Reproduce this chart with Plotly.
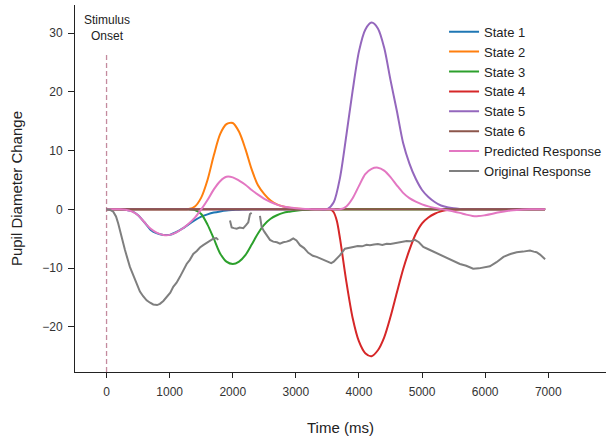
import plotly.graph_objects as go

# ---------------- data ----------------
s1_t = [0, 100, 200, 300, 400, 500, 600, 700, 800, 900, 1000, 1100, 1200, 1300, 1400, 1500, 1600,
        1700, 1800, 1900, 2000, 2100, 2200, 2300, 2400, 6950]
s1_v = [0, 0, 0, -0.05, -0.3, -1.0, -2.2, -3.5, -4.1, -4.35, -4.35, -3.9, -3.3, -2.55, -1.85, -1.25,
        -0.85, -0.55, -0.35, -0.2, -0.12, -0.06, -0.02, 0, 0, 0]

s2_t = [0, 1100, 1200, 1300, 1400, 1500, 1600, 1700, 1800, 1900, 2000, 2100, 2200, 2300, 2400, 2500,
        2600, 2700, 2800, 2900, 3000, 3100, 3200, 3300, 3400, 6950]
s2_v = [0, 0, 0, 0.05, 0.5, 2.0, 5.0, 9.2, 12.8, 14.5, 14.7, 13.2, 10.3, 6.8, 4.1, 2.6, 1.5, 0.85,
        0.5, 0.28, 0.15, 0.08, 0.03, 0, 0, 0]

s3_t = [0, 1200, 1300, 1400, 1500, 1600, 1700, 1800, 1900, 2000, 2100, 2200, 2300, 2400, 2500, 2600,
        2700, 2800, 2900, 3000, 3100, 3200, 3300, 3400, 6950]
s3_v = [0, 0, 0, -0.1, -0.8, -2.6, -5.0, -7.5, -8.9, -9.3, -8.9, -7.8, -6.0, -4.1, -2.6, -1.6, -1.0,
        -0.6, -0.4, -0.25, -0.12, -0.05, 0, 0, 0]

s4_t = [0, 3450, 3550, 3600, 3650, 3700, 3800, 3900, 4000, 4100, 4200, 4300, 4400, 4500, 4600, 4700,
        4800, 4900, 5000, 5100, 5200, 5300, 5400, 5500, 5600, 5700, 6950]
s4_v = [0, 0, 0, -0.5, -2.0, -5.0, -12.3, -18.5, -22.5, -24.5, -25.0, -24.0, -21.8, -18.3, -14.2,
        -10.2, -6.9, -4.2, -2.4, -1.4, -0.75, -0.35, -0.12, -0.03, 0, 0, 0]

s5_t = [0, 3300, 3400, 3500, 3600, 3700, 3800, 3900, 4000, 4100, 4200, 4300, 4400, 4500, 4600, 4700,
        4800, 4900, 5000, 5100, 5200, 5300, 5400, 5500, 5600, 5700, 5800, 5900, 6950]
s5_v = [0, 0, 0, 0.05, 1.2, 5.4, 12.6, 20.2, 26.9, 30.6, 31.8, 30.8, 27.5, 22.0, 16.8, 11.3, 7.8,
        5.2, 3.3, 2.1, 1.25, 0.65, 0.35, 0.18, 0.08, 0.03, 0, 0, 0]

s6_t = [0, 6950]
s6_v = [0, 0]

pred_t = [0, 100, 200, 300, 400, 500, 600, 700, 800, 900, 1000, 1100, 1200, 1300, 1400, 1500, 1600,
          1700, 1800, 1900, 2000, 2100, 2200, 2300, 2400, 2500, 2600, 2700, 2800, 2900, 3000, 3100,
          3200, 3300, 3400, 3600, 3700, 3800, 3900, 4000, 4100, 4200, 4300, 4400, 4500, 4600, 4700,
          4800, 4900, 5000, 5100, 5200, 5300, 5400, 5500, 5600, 5700, 5800, 5900, 6000, 6100, 6200,
          6300, 6400, 6500, 6600, 6700, 6800, 6950]
pred_v = [0, 0, 0, -0.05, -0.35, -1.0, -2.2, -3.3, -4.0, -4.35, -4.35, -3.95, -3.3, -2.45, -1.4,
          0.0, 1.6, 3.4, 4.8, 5.55, 5.45, 4.9, 4.2, 3.3, 2.5, 1.8, 1.25, 0.8, 0.5, 0.3, 0.18, 0.1,
          0.05, 0.02, 0, 0, 0, 0.5, 1.9, 4.0, 6.0, 6.9, 7.1, 6.6, 5.5, 4.1, 2.8, 1.9, 1.3, 0.85, 0.5,
          0.25, 0.05, -0.15, -0.35, -0.6, -0.9, -1.12, -1.15, -1.0, -0.8, -0.55, -0.35, -0.2, -0.1,
          -0.03, 0, 0, 0]

orig_t = [0, 50, 106, 150, 185, 238, 291, 370, 450, 529, 580, 635, 690, 740, 800, 846, 900, 952,
          1010, 1057, 1110, 1163, 1216, 1269, 1320, 1374, 1430, 1480, 1532, 1586, 1640, 1691, 1740,
          1770,
          None,
          1956, 1983, 2020, 2062, 2110, 2167, 2210, 2246, 2273, 2300,
          None,
          2431, 2458, 2500, 2537, 2590, 2642, 2700, 2748, 2800, 2854, 2905, 2959, 3010, 3065, 3130,
          3197, 3270, 3330, 3383, 3450, 3510, 3560, 3600, 3646, 3700, 3778, 3840, 3910, 3980, 4050,
          4120, 4174, 4240, 4300, 4370, 4439, 4500, 4598, 4680, 4756, 4820, 4887, 4950, 5020, 5100,
          5178, 5250, 5330, 5416, 5500, 5600, 5700, 5810, 5900, 5980, 6075, 6180, 6290, 6400, 6500,
          6600, 6710, 6770, 6815, 6870, 6920, 6950]
orig_v = [0, -0.05, -0.4, -1.2, -2.4, -4.7, -6.9, -9.8, -12.0, -14.0, -14.8, -15.5, -15.9, -16.2,
          -16.3, -16.1, -15.6, -15.0, -14.2, -13.2, -12.5, -11.5, -10.3, -9.3, -8.6, -7.6, -7.1, -6.5,
          -6.1, -5.7, -5.4, -5.0, -4.9, -5.2,
          None,
          -1.9, -3.1, -3.2, -3.3, -3.1, -3.2, -2.7, -2.2, -0.8, -0.6,
          None,
          -1.1, -3.0, -3.8, -4.4, -5.2, -5.5, -5.6, -5.85, -5.6, -5.5, -5.3, -4.95, -5.3, -6.1, -6.6,
          -7.4, -7.9, -8.1, -8.35, -8.6, -9.0, -9.15, -8.9, -8.4, -7.8, -6.7, -6.5, -6.4, -6.25,
          -6.3, -6.05, -6.1, -6.0, -5.9, -6.05, -5.85, -5.9, -5.7, -5.6, -5.4, -5.45, -5.2, -5.6,
          -6.4, -6.8, -7.2, -7.6, -8.0, -8.4, -8.8, -9.3, -9.6, -10.1, -10.05, -9.9, -9.7, -9.0,
          -8.1, -7.6, -7.3, -7.2, -7.0, -7.2, -7.3, -7.7, -8.3, -8.5]

names = ["State 1", "State 2", "State 3", "State 4", "State 5", "State 6",
         "Predicted Response", "Original Response"]
colors = ["#1f77b4", "#ff7f0e", "#2ca02c", "#d62728", "#9467bd", "#8c564b", "#e377c2", "#7f7f7f"]

x_ticks = [0, 1000, 2000, 3000, 4000, 5000, 6000, 7000]
y_ticks = [-20, -10, 0, 10, 20, 30]

# ---------------- figure ----------------
fig = go.Figure()
series = [(s1_t, s1_v), (s2_t, s2_v), (s3_t, s3_v), (s4_t, s4_v), (s5_t, s5_v), (s6_t, s6_v),
          (pred_t, pred_v)]
for (t, v), name, col in zip(series, names[:7], colors[:7]):
    fig.add_trace(go.Scatter(x=t, y=v, mode="lines", name=name,
                             line=dict(color=col, width=2, shape="spline", smoothing=0.8)))
fig.add_trace(go.Scatter(x=orig_t, y=orig_v, mode="lines", name=names[7],
                         line=dict(color=colors[7], width=2), connectgaps=False))

# stimulus onset marker
fig.add_shape(type="line", x0=0, x1=0, y0=-27.7, y1=26.8, xref="x", yref="y",
              line=dict(color="#c48a9e", width=1.3, dash="5px,3px"), layer="below")
fig.add_annotation(x=0, y=30.9, xref="x", yref="y", text="Stimulus<br>Onset", showarrow=False,
                   font=dict(size=12, color="#222"), align="center")

# axis titles
fig.add_annotation(x=-0.11, y=0.5, xref="paper", yref="paper", text="Pupil Diameter Change",
                   textangle=-90, showarrow=False, font=dict(size=15, color="#222"),
                   xanchor="center", yanchor="middle")
fig.add_annotation(x=0.5, y=-0.15, xref="paper", yref="paper", text="Time (ms)",
                   showarrow=False, font=dict(size=15, color="#222"),
                   xanchor="center", yanchor="middle")

fig.update_layout(
    width=608, height=436,
    margin=dict(l=75, r=2, t=5, b=64, autoexpand=False),
    plot_bgcolor="white", paper_bgcolor="white",
    font=dict(family="Arial, Liberation Sans, sans-serif", size=12, color="#222"),
    showlegend=True,
    legend=dict(x=0.695, y=0.968, xanchor="left", yanchor="top", bgcolor="rgba(0,0,0,0)",
                font=dict(size=13, color="#222")),
    xaxis=dict(range=[-500, 7915], tickvals=x_ticks, showline=True, linecolor="#222", linewidth=1,
               ticks="outside", ticklen=5, tickcolor="#222", showgrid=False, zeroline=False,
               ticklabelstandoff=4, tickfont=dict(size=12, color="#333")),
    yaxis=dict(range=[-27.7, 34.8], tickvals=y_ticks, showline=True, linecolor="#222", linewidth=1,
               ticks="outside", ticklen=6, tickcolor="#222", showgrid=False, zeroline=False,
               ticklabelstandoff=3, tickfont=dict(size=12, color="#333")),
)

fig.write_html("out.html")
